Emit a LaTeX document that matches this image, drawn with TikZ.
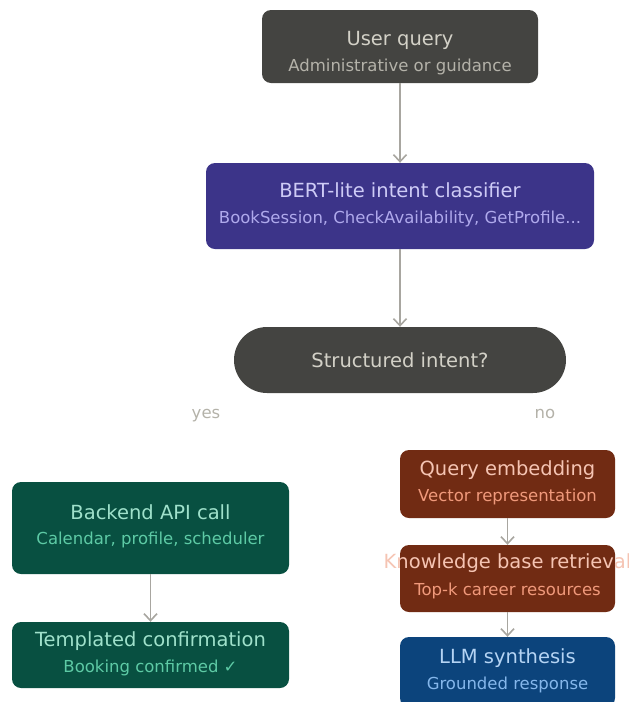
\documentclass[tikz,border=0pt]{standalone}
\usepackage{fontspec}
\setmainfont{DejaVu Sans}
\usetikzlibrary{arrows.meta}

\definecolor{grayfill}{HTML}{444441}
\definecolor{graytitle}{HTML}{D3D1C7}
\definecolor{graysub}{HTML}{B4B2A9}
\definecolor{purplefill}{HTML}{3C3489}
\definecolor{purpletitle}{HTML}{CECBF6}
\definecolor{purplesub}{HTML}{AFA9EC}
\definecolor{greenfill}{HTML}{085041}
\definecolor{greentitle}{HTML}{9FE1CB}
\definecolor{greensub}{HTML}{5DCAA5}
\definecolor{brownfill}{HTML}{712B13}
\definecolor{browntitle}{HTML}{F5C4B3}
\definecolor{brownsub}{HTML}{F0997B}
\definecolor{bluefill}{HTML}{0C447C}
\definecolor{bluetitle}{HTML}{B5D4F4}
\definecolor{bluesub}{HTML}{85B7EB}
\definecolor{linkgray}{HTML}{A8A6A0}

\tikzset{
  box/.style={rectangle, rounded corners=9pt, inner sep=0pt, draw=none},
  ttl/.style={anchor=base, inner sep=0pt, font=\fontsize{19.5}{23}\selectfont},
  sub/.style={anchor=base, inner sep=0pt, font=\fontsize{16.5}{20}\selectfont},
  link/.style={draw=linkgray, line width=1.8pt, -{Straight Barb[length=7pt,width=13pt,line width=1.6pt]}},
}

\begin{document}
\begin{tikzpicture}[x=1pt,y=-1pt]
\useasboundingbox (0,0) rectangle (629,702);

% top of the pipeline
\node[box, fill=grayfill, minimum width=276pt, minimum height=73pt] (user) at (400,46.5) {};
\node[ttl, text=graytitle] (userT) at (400,45) {User query};
\node[sub, text=graysub] (userS) at (400,71) {Administrative or guidance};

\node[box, fill=purplefill, minimum width=388pt, minimum height=86pt] (bert) at (400,206) {};
\node[ttl, text=purpletitle] (bertT) at (400,197) {BERT-lite intent classifier};
\node[sub, text=purplesub] (bertS) at (400,223) {BookSession, CheckAvailability, GetProfile...};

\node[box, rounded corners=33pt, fill=grayfill, minimum width=332pt, minimum height=66pt] (decide) at (400,360) {};
\node[ttl, text=graytitle] (decideT) at (400,367) {Structured intent?};

\node[sub, text=graysub] (yes) at (206,418) {yes};
\node[sub, text=graysub] (no) at (545,418) {no};

% structured branch
\node[box, fill=greenfill, minimum width=277pt, minimum height=92pt] (api) at (150.5,528) {};
\node[ttl, text=greentitle] (apiT) at (150.5,519) {Backend API call};
\node[sub, text=greensub] (apiS) at (150.5,544) {Calendar, profile, scheduler};

\node[box, fill=greenfill, minimum width=277pt, minimum height=66pt] (confirm) at (150.5,655) {};
\node[ttl, text=greentitle] (confirmT) at (150.5,646) {Templated confirmation};
\node[sub, text=greensub] (confirmS) at (150.5,672) {Booking confirmed \char"2713};

% retrieval branch
\node[box, fill=brownfill, minimum width=215pt, minimum height=68pt] (embed) at (507.5,484) {};
\node[ttl, text=browntitle] (embedT) at (507.5,475) {Query embedding};
\node[sub, text=brownsub] (embedS) at (507.5,501) {Vector representation};

\node[box, fill=brownfill, minimum width=215pt, minimum height=67pt] (kb) at (507.5,578.5) {};
\node[ttl, text=browntitle] (kbT) at (507.5,568) {Knowledge base retrieval};
\node[sub, text=brownsub] (kbS) at (507.5,595) {Top-k career resources};

\node[box, fill=bluefill, minimum width=215pt, minimum height=70pt] (llm) at (507.5,672) {};
\node[ttl, text=bluetitle] (llmT) at (507.5,663) {LLM synthesis};
\node[sub, text=bluesub] (llmS) at (507.5,689) {Grounded response};

% connectors
\draw[link] (user.south) -- (bert.north);
\draw[link] (bert.south) -- (decide.north);
\draw[link] (api.south) -- (confirm.north);
\draw[link] (embed.south) -- (kb.north);
\draw[link] (kb.south) -- (llm.north);
\end{tikzpicture}
\end{document}
